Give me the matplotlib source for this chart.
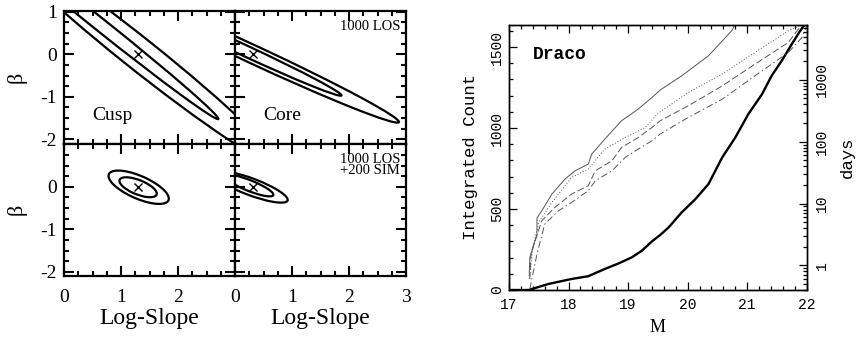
import matplotlib
matplotlib.use("Agg")
import matplotlib.pyplot as plt
from matplotlib.patches import Ellipse
from matplotlib.ticker import MultipleLocator, FixedLocator, LogLocator, NullFormatter

# ---------------- data: left 2x2 panel (ellipse contours) ----------------
panel_names = ["Cusp", "Core", "", ""]
panel_notes = ["", "1000 LOS", "", "1000 LOS\n+200 SIM"]
fiducial_x = [1.3, 0.31, 1.3, 0.31]
fiducial_y = [0.0, 0.0, 0.0, 0.0]
# inner contour: centre x, centre y, semi-major, semi-minor, angle (deg)
inner_cx = [0.66, 0.17, 1.30, 0.25]
inner_cy = [0.67, 0.09, -0.01, 0.03]
inner_a = [3.0, 2.0, 0.37, 0.48]
inner_b = [0.13, 0.12, 0.16, 0.12]
inner_ang = [-47.0, -32.0, -31.0, -29.0]
# outer contour
outer_cx = [1.30, 0.33, 1.31, 0.28]
outer_cy = [0.03, -0.01, -0.01, 0.0]
outer_a = [3.6, 3.0, 0.61, 0.72]
outer_b = [0.33, 0.20, 0.25, 0.19]
outer_ang = [-47.0, -32.0, -33.0, -27.5]

# ---------------- data: right panel (Draco) ----------------
thick_M = [17.0, 17.33, 17.66, 18.05, 18.33, 18.61, 18.84, 19.06, 19.23, 19.40, 19.54,
           19.68, 19.90, 20.13, 20.35, 20.58, 20.80, 21.02, 21.25, 21.41, 21.58, 21.75,
           21.89, 21.97]
thick_count = [0, 0, 37, 68, 85, 130, 164, 201, 242, 300, 340,
               386, 479, 561, 654, 818, 941, 1086, 1209, 1322, 1415, 1518,
               1600, 1640]

solid_M = [17.34, 17.35, 17.47, 17.47, 17.55, 17.72, 17.94, 18.11, 18.33, 18.39, 18.61,
           18.89, 19.17, 19.40, 19.54, 19.90, 20.35, 20.74, 20.80]
solid_count = [88, 201, 345, 444, 489, 592, 685, 736, 777, 839, 932,
               1045, 1117, 1188, 1235, 1322, 1446, 1600, 1640]

dot_M = [17.34, 17.40, 17.50, 17.72, 18.05, 18.33, 18.61, 18.95, 19.29, 19.50, 20.01,
         20.58, 21.13, 21.69, 21.93]
dot_count = [70, 260, 420, 540, 695, 746, 870, 941, 1003, 1090, 1219,
             1333, 1466, 1600, 1640]

dash_M = [17.35, 17.37, 17.55, 17.77, 18.05, 18.33, 18.45, 18.73, 18.89, 19.17, 19.40,
          19.54, 20.01, 20.58, 21.13, 21.69, 21.90, 22.0]
dash_count = [68, 224, 428, 510, 592, 643, 736, 798, 880, 941, 1003,
              1045, 1137, 1260, 1394, 1528, 1630, 1640]

dashdot_M = [17.35, 17.47, 17.60, 17.83, 18.05, 18.33, 18.45, 18.73, 18.95, 19.17, 19.40,
             19.54, 20.01, 20.58, 21.13, 21.69, 21.92, 22.0]
dashdot_count = [6, 222, 407, 489, 540, 613, 674, 736, 818, 870, 921,
                 963, 1065, 1178, 1322, 1466, 1559, 1630]

W, H = 858, 338
fig = plt.figure(figsize=(W / 100, H / 100), dpi=100)

serif = ["Liberation Serif", "DejaVu Serif"]
mono = ["Liberation Mono", "DejaVu Sans Mono"]

# ---------------- left grid ----------------
gl, gr, gt, gb = 64 / W, 406 / W, 1 - 11 / H, 1 - 276 / H
pw = (gr - gl) / 2
ph = (gt - gb) / 2
for i in range(4):
    r, c = divmod(i, 2)
    ax = fig.add_axes([gl + c * pw, gb + (1 - r) * ph, pw, ph])
    ax.set_xlim(0, 3)
    ax.set_ylim(-2.1, 1.02)
    for s in ax.spines.values():
        s.set_linewidth(1.6)
    ax.xaxis.set_major_locator(FixedLocator([0, 1, 2, 3]))
    ax.xaxis.set_minor_locator(MultipleLocator(0.25))
    ax.yaxis.set_major_locator(FixedLocator([-2, -1, 0, 1]))
    ax.yaxis.set_minor_locator(MultipleLocator(0.25))
    ax.tick_params(which="both", direction="in", top=True, right=True, width=1.5,
                   labelsize=14)
    ax.tick_params(axis="x", pad=9)
    ax.tick_params(axis="y", pad=5)
    ax.tick_params(which="major", length=7)
    ax.tick_params(which="minor", length=3.5)
    if r == 0:
        ax.tick_params(labelbottom=False)
    else:
        ax.set_xlabel("Log-Slope", family=serif, fontsize=17, labelpad=2)
        if c == 0:
            ax.set_xticklabels(["0", "1", "2", ""])
        else:
            ax.set_xticklabels(["0", "1", "2", "3"])
    if c == 1:
        ax.tick_params(labelleft=False)
    else:
        ax.set_ylabel("β", family=serif, fontsize=16, labelpad=10)
        if r == 1:
            ax.set_yticklabels(["-2", "-1", "0", ""])
        else:
            ax.set_yticklabels(["-2", "-1", "0", "1"])
    for lab in ax.get_xticklabels() + ax.get_yticklabels():
        lab.set_family(serif)
        lab.set_fontsize(14)

    ax.add_patch(Ellipse((inner_cx[i], inner_cy[i]), 2 * inner_a[i], 2 * inner_b[i],
                         angle=inner_ang[i], fill=False, lw=1.6, color="black"))
    ax.add_patch(Ellipse((outer_cx[i], outer_cy[i]), 2 * outer_a[i], 2 * outer_b[i],
                         angle=outer_ang[i], fill=False, lw=1.6, color="black"))
    ax.plot([fiducial_x[i]], [fiducial_y[i]], marker="x", ms=6, mew=1.0, color="black")
    if panel_names[i]:
        ax.text(0.165, 0.21, panel_names[i], transform=ax.transAxes, family=serif,
                fontsize=14, ha="left", va="center")
    if panel_notes[i]:
        ax.text(0.965, 0.93, panel_notes[i], transform=ax.transAxes, family=serif,
                fontsize=10.5, ha="right", va="top", linespacing=0.85)

# ---------------- right panel ----------------
ax2 = fig.add_axes([509 / W, 1 - 290 / H, (806.7 - 509) / W, (290 - 25) / H])
ax2.set_xlim(17, 22)
ax2.set_ylim(0, 1636)
ax2.plot(thick_M, thick_count, color="black", lw=1.7)
thin = dict(color="#555555", lw=0.7)
ax2.plot(solid_M, solid_count, ls="-", **thin)
ax2.plot(dot_M, dot_count, ls=(0, (1, 2)), **thin)
ax2.plot(dash_M, dash_count, ls=(0, (7, 3)), **thin)
ax2.plot(dashdot_M, dashdot_count, ls=(0, (7, 3, 1.5, 3)), **thin)
for s in ax2.spines.values():
    s.set_linewidth(1.0)
ax2.xaxis.set_major_locator(MultipleLocator(1))
ax2.xaxis.set_minor_locator(MultipleLocator(0.2))
ax2.yaxis.set_major_locator(MultipleLocator(500))
ax2.yaxis.set_minor_locator(MultipleLocator(100))
ax2.tick_params(which="both", direction="in", top=True, right=False, width=0.9, labelsize=10.5)
ax2.tick_params(axis="x", pad=6)
ax2.tick_params(which="major", length=6)
ax2.tick_params(which="minor", length=3)
for lab in ax2.get_xticklabels():
    lab.set_family(mono)
for lab in ax2.get_yticklabels():
    lab.set_family(mono)
    lab.set_rotation(90)
    lab.set_va("center")
ax2.set_xlabel("M", family=serif, fontsize=13, labelpad=5)
ax2.set_ylabel("Integrated Count", family=mono, fontsize=12.5, labelpad=9)
ax2.text(0.08, 0.89, "Draco", transform=ax2.transAxes, family=mono, fontweight="bold",
         fontsize=13, ha="left", va="center")

ax3 = ax2.twinx()
ax3.set_yscale("log")
ax3.set_ylim(0.4, 7700)
ax3.yaxis.set_minor_locator(LogLocator(base=10, subs=range(2, 10), numticks=10))
ax3.yaxis.set_minor_formatter(NullFormatter())
ax3.tick_params(which="both", direction="in", width=0.9, labelsize=10.5, pad=6)
ax3.tick_params(which="major", length=6)
ax3.tick_params(which="minor", length=3)
ax3.set_yticks([1, 10, 100, 1000])
ax3.set_yticklabels(["1", "10", "100", "1000"])
for lab in ax3.get_yticklabels():
    lab.set_family(mono)
    lab.set_rotation(90)
    lab.set_va("center")
ax3.set_ylabel("days", family=mono, fontsize=12.5, rotation=90, va="center", ha="center")
ax3.yaxis.set_label_coords((847 - 509) / 297.7, 0.5)
for s in ax3.spines.values():
    s.set_linewidth(1.0)

fig.savefig("out.png", dpi=100)
